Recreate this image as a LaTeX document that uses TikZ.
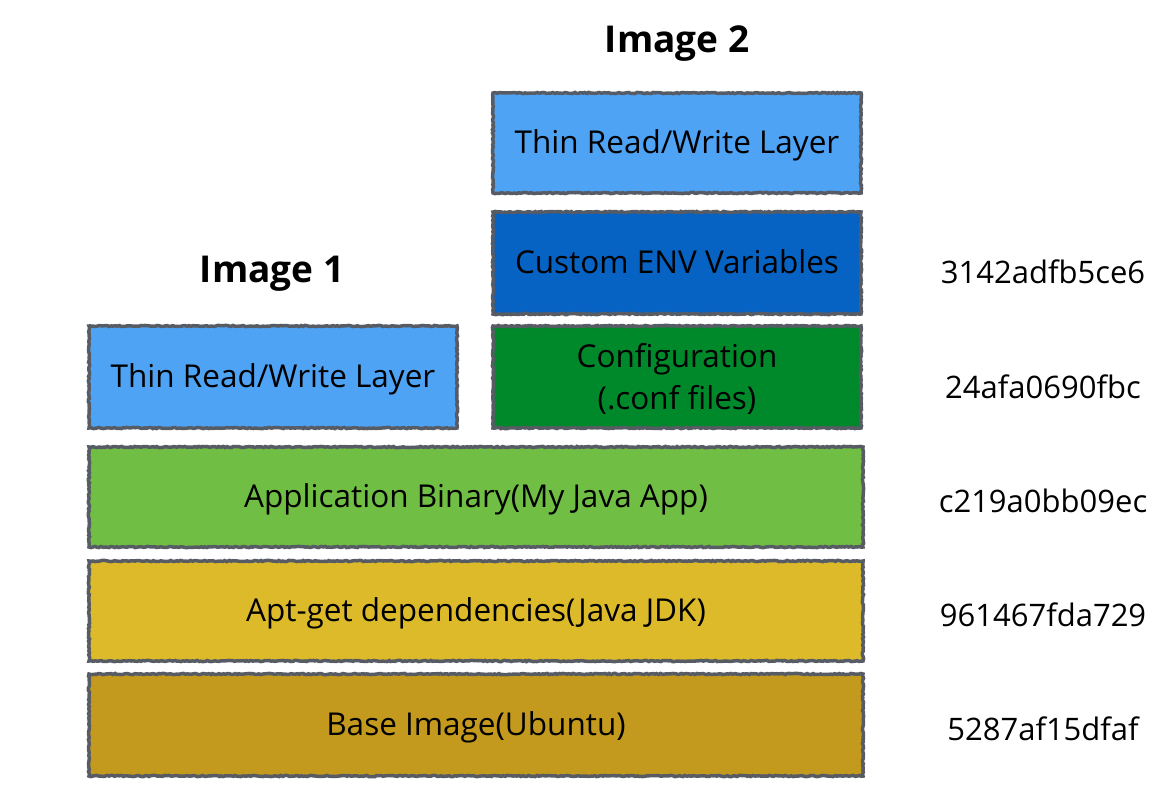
\documentclass[tikz,border=0pt]{standalone}
\usepackage{fontspec}
\setmainfont{Open Sans}
\usetikzlibrary{decorations.pathmorphing}

\definecolor{rwblue}{HTML}{4EA3F5}
\definecolor{envblue}{HTML}{0662C3}
\definecolor{confgreen}{HTML}{00892B}
\definecolor{appgreen}{HTML}{70BF44}
\definecolor{aptyellow}{HTML}{DCBA29}
\definecolor{baseochre}{HTML}{C39A1D}
\definecolor{edgegray}{HTML}{575C64}

\tikzset{
  layer/.style={draw=edgegray, line width=3.5pt, minimum height=100pt,
    align=center, font=\fontsize{31.5}{42}\selectfont,
    text depth=2pt,
    decorate, decoration={random steps, segment length=2pt, amplitude=0.6pt}},
  small/.style={layer, minimum width=368pt},
  wide/.style={layer, minimum width=774pt},
  hash/.style={font=\fontsize{31}{36}\selectfont},
  title/.style={font=\fontsize{37}{44}\selectfont\bfseries}
}

\begin{document}
\begin{tikzpicture}[x=1pt,y=-1pt]

\useasboundingbox (0,0) rectangle (1172,794);

% Titles
\node[title] (img2) at (677,44) {Image 2};
\node[title] (img1) at (272,274) {Image 1};

% Image 2 stack
\node[small, fill=rwblue] (rwtwo) at (677,143) {Thin Read/Write Layer};
\node[small, fill=envblue, minimum height=102pt] (env) at (677,263) {Custom ENV Variables};
\node[small, fill=confgreen, minimum height=102pt] (conf) at (677,377) {Configuration\\(.conf files)};

% Image 1 top
\node[small, fill=rwblue, minimum height=102pt] (rwone) at (273,377) {Thin Read/Write Layer};

% Shared layers
\node[wide, fill=appgreen] (app) at (476,497) {Application Binary(My Java App)};
\node[wide, fill=aptyellow] (apt) at (476,611) {Apt-get dependencies(Java JDK)};
\node[wide, fill=baseochre, minimum height=102pt] (base) at (476,725) {Base Image(Ubuntu)};

% Layer ids
\node[hash] (hashenv) at (1043,272) {3142adfb5ce6};
\node[hash] (hashconf) at (1043,387) {24afa0690fbc};
\node[hash] (hashapp) at (1043,501) {c219a0bb09ec};
\node[hash] (hashapt) at (1043,615) {961467fda729};
\node[hash] (hashbase) at (1043,729) {5287af15dfaf};

\end{tikzpicture}
\end{document}
